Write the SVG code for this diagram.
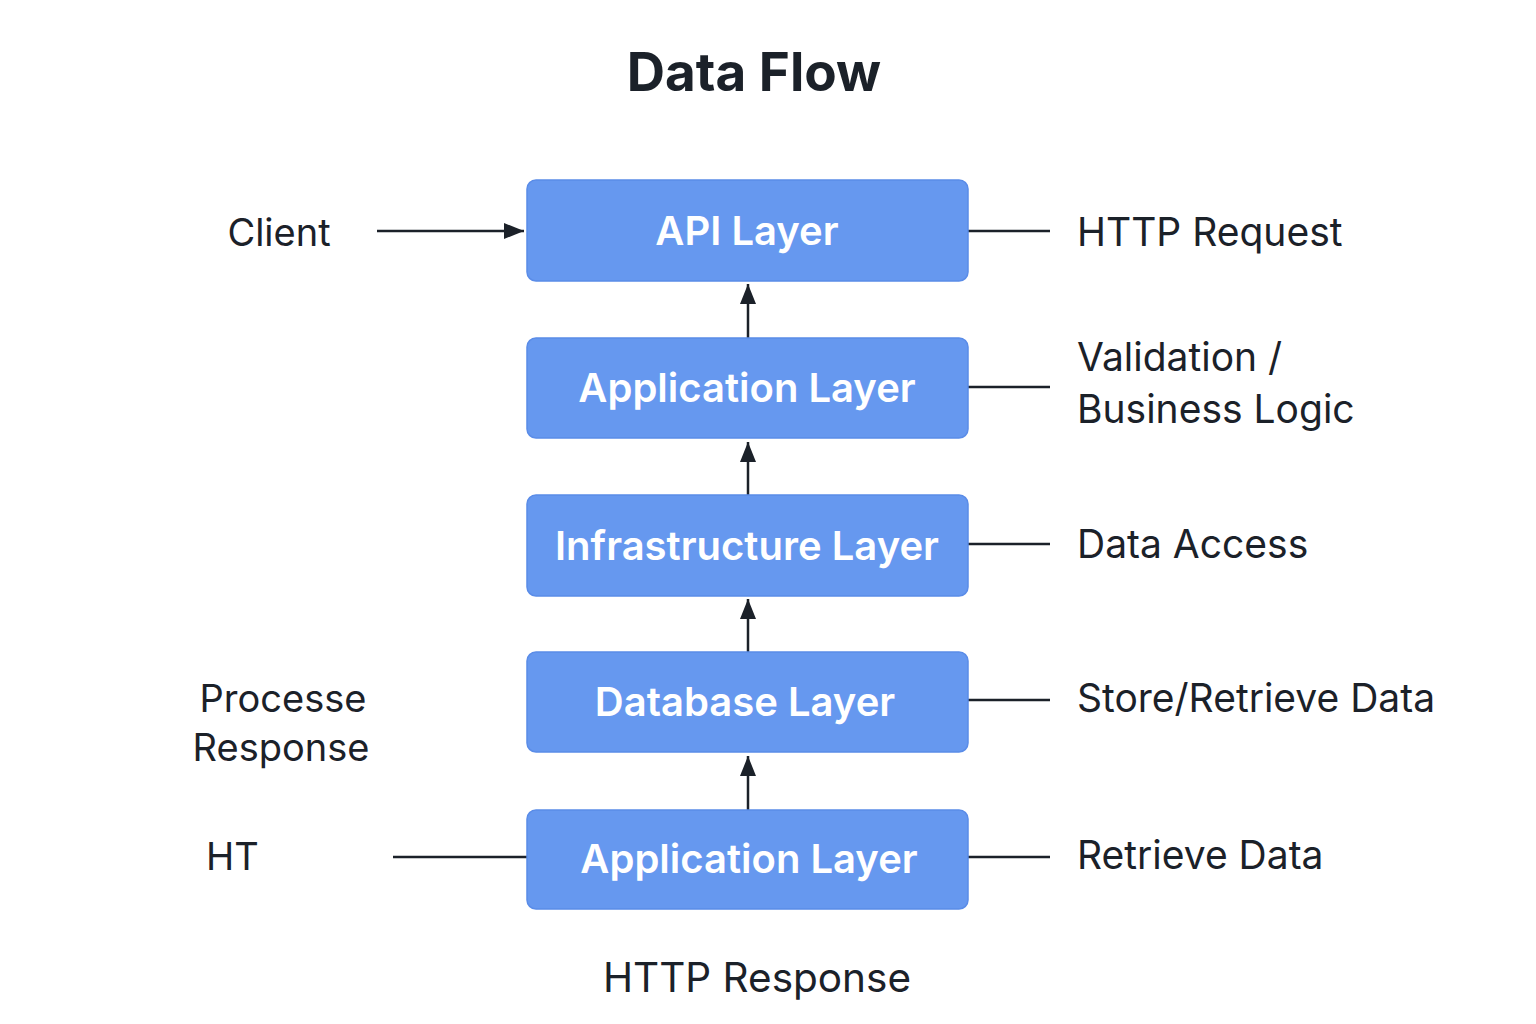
<svg xmlns="http://www.w3.org/2000/svg" width="1536" height="1024" viewBox="0 0 1536 1024">
<defs>
<style>
.box{fill:#6698EF;stroke:#5A8CE8;stroke-width:1.5}
.bt{font-family:Inter,"Noto Sans",sans-serif;font-size:40px;font-weight:600;fill:#fff;text-anchor:middle}
.lb{font-family:Inter,"Noto Sans",sans-serif;font-size:38px;fill:#1b2129}
.rl{font-size:39px}
.ln{stroke:#1b2129;stroke-width:2.5;fill:none}
</style>
<marker id="ah2" markerWidth="20" markerHeight="18" refX="20" refY="9" orient="auto" markerUnits="userSpaceOnUse" viewBox="0 0 20 18">
<path d="M0,1 L20,9 L0,17 Z" fill="#1b2129"/>
</marker>
</defs>
<rect width="1536" height="1024" fill="#fff"/>
<text x="754" y="91" font-family="Inter,'Noto Sans',sans-serif" font-size="53" font-weight="700" fill="#1b2129" text-anchor="middle">Data Flow</text>
<g id="connectors">
<line class="ln" x1="377" y1="231" x2="524" y2="231" marker-end="url(#ah2)"/>
<line class="ln" x1="748" y1="338" x2="748" y2="284" marker-end="url(#ah2)"/>
<line class="ln" x1="748" y1="495" x2="748" y2="442" marker-end="url(#ah2)"/>
<line class="ln" x1="748" y1="652" x2="748" y2="599" marker-end="url(#ah2)"/>
<line class="ln" x1="748" y1="810" x2="748" y2="756" marker-end="url(#ah2)"/>
<line class="ln" x1="968" y1="231" x2="1050" y2="231"/>
<line class="ln" x1="968" y1="387" x2="1050" y2="387"/>
<line class="ln" x1="968" y1="544" x2="1050" y2="544"/>
<line class="ln" x1="968" y1="700" x2="1050" y2="700"/>
<line class="ln" x1="968" y1="857" x2="1050" y2="857"/>
<line class="ln" x1="393" y1="857" x2="527" y2="857"/>
</g>
<g id="api">
<rect class="box" x="527" y="180" width="441" height="101" rx="9"/>
<text class="bt" x="747" y="245">API Layer</text>
</g>
<g id="app1">
<rect class="box" x="527" y="338" width="441" height="100" rx="9"/>
<text class="bt" x="747" y="402">Application Layer</text>
</g>
<g id="infra">
<rect class="box" x="527" y="495" width="441" height="101" rx="9"/>
<text class="bt" x="747" y="560">Infrastructure Layer</text>
</g>
<g id="db">
<rect class="box" x="527" y="652" width="441" height="100" rx="9"/>
<text class="bt" x="745" y="716">Database Layer</text>
</g>
<g id="app2">
<rect class="box" x="527" y="810" width="441" height="99" rx="9"/>
<text class="bt" x="749" y="873">Application Layer</text>
</g>
<g id="labels">
<text class="lb" x="279" y="246" text-anchor="middle">Client</text>
<text class="lb rl" x="1077" y="246">HTTP Request</text>
<text class="lb rl" x="1077" y="371">Validation /</text>
<text class="lb rl" x="1077" y="423">Business Logic</text>
<text class="lb rl" x="1077" y="558">Data Access</text>
<text class="lb rl" x="1077" y="712">Store/Retrieve Data</text>
<text class="lb rl" x="1077" y="869">Retrieve Data</text>
<text class="lb" x="283" y="712" text-anchor="middle">Processe</text>
<text class="lb" x="281" y="761" text-anchor="middle">Response</text>
<text class="lb" x="206" y="870">HT</text>
<text class="lb" x="757" y="992" text-anchor="middle" style="font-size:40.5px">HTTP Response</text>
</g>
</svg>
